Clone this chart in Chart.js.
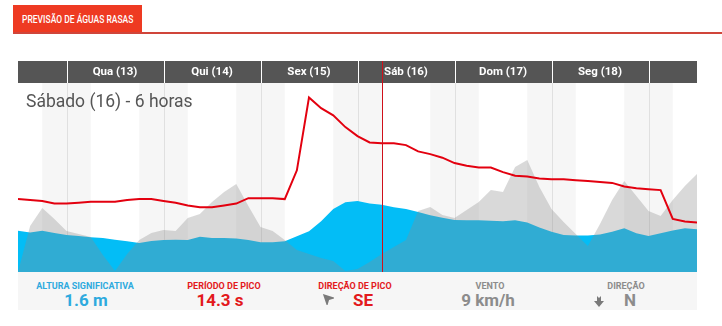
<!DOCTYPE html>
<html>
<head>
<meta charset="utf-8">
<script src="https://cdn.jsdelivr.net/npm/chart.js@4.4.1/dist/chart.umd.min.js"></script>
<style>
  body { margin: 0; width: 722px; height: 326px; background: #fff; font-family: Roboto, "Noto Sans", sans-serif; position: relative; overflow: hidden; }
  .tab { position: absolute; left: 13px; top: 5px; width: 129px; height: 28px; background: #ee3a22; }
  .tab span { position: absolute; left: 9px; top: 8px; color: #fff; font-size: 11.5px; font-weight: 500; line-height: 12px; white-space: nowrap; transform: scaleX(0.74); transform-origin: 0 0; }
  .rule { position: absolute; left: 13px; top: 32px; width: 709px; height: 2px; background: #d0453a; }
  #wrap { position: absolute; left: 18px; top: 61px; width: 679px; height: 211px; }
  .title { position: absolute; left: 26px; top: 92px; font-size: 17.5px; line-height: 18px; color: #555; white-space: nowrap; }
  .stats { position: absolute; left: 18px; top: 272px; width: 679px; height: 38px; background: #f6f6f6; }
  .c { position: absolute; width: 160px; text-align: center; white-space: nowrap; }
  .lbl { top: 281px; font-size: 9px; line-height: 10px; font-weight: bold; }
  .val { top: 292px; font-size: 17px; line-height: 17px; font-weight: bold; }
  .blue { color: #2eaade; }
  .red { color: #e3191c; }
  .gray { color: #8c8c8c; }
  .icon { position: absolute; }
</style>
</head>
<body>
<div class="tab"><span>PREVISÃO DE ÁGUAS RASAS</span></div>
<div class="rule"></div>

<div id="wrap"><canvas id="forecast" width="679" height="211"></canvas></div>
<div class="title" id="title"></div>

<div class="stats"></div>
<div class="c lbl blue" style="left:5px">ALTURA SIGNIFICATIVA</div>
<div class="c val blue" style="left:6px" id="vHeight"></div>
<div class="c lbl red" style="left:144px">PERÍODO DE PICO</div>
<div class="c val red" style="left:140px" id="vPeriod"></div>
<div class="c lbl red" style="left:275px">DIREÇÃO DE PICO</div>
<svg class="icon" style="left:321px;top:292px" width="13" height="13" viewBox="0 0 12 12">
  <polygon points="6,0 11.5,11 6,8 0.5,11" fill="#7a7a7a" transform="rotate(-45 6 6)"/>
</svg>
<div class="c val red" style="left:283px">SE</div>
<div class="c lbl gray" style="left:410px">VENTO</div>
<div class="c val gray" style="left:408px" id="vWind"></div>
<div class="c lbl gray" style="left:546px">DIREÇÃO</div>
<svg class="icon" style="left:594px;top:296px" width="10" height="11" viewBox="0 0 10 11">
  <polygon points="3,0 7,0 7,5 10,5 5,11 0,5 3,5" fill="#7a7a7a"/>
  <polygon points="3,0 5,2 7,0" fill="#f6f6f6"/>
</svg>
<div class="c val gray" style="left:550px">N</div>

<script>
// 3-hourly slots, first slot is Tuesday 12h
const firstHour = 12;
const slotCount = 57;
const slotLabels = Array.from({ length: slotCount }, (_, i) => ((firstHour + 3 * i) % 24) + 'h');

const dayLabels = ['Qua (13)', 'Qui (14)', 'Sex (15)', 'Sáb (16)', 'Dom (17)', 'Seg (18)'];
const nightStart = 18;   // shaded from 18h ...
const nightSlots = 4;    // ... for 12 hours

const selectedSlot = 30;
const selectedTitle = 'Sábado (16) - 6 horas';

// significant wave height (m)
const waveHeight = [
  0.98, 0.94, 0.98, 0.93, 0.88, 0.86, 0.83, 0.81, 0.77, 0.73,
  0.69, 0.74, 0.76, 0.77, 0.76, 0.84, 0.81, 0.81, 0.80, 0.76,
  0.71, 0.71, 0.73, 0.85, 0.97, 1.21, 1.50, 1.66, 1.69, 1.63,
  1.60, 1.54, 1.50, 1.43, 1.35, 1.29, 1.24, 1.23, 1.23, 1.22,
  1.21, 1.23, 1.18, 1.06, 0.96, 0.88, 0.87, 0.87, 0.89, 0.96,
  1.04, 0.92, 0.86, 0.92, 0.99, 1.04, 1.02
];

// peak period (s)
const peakPeriod = [
  8.1, 8.0, 7.9, 7.6, 7.6, 7.7, 7.8, 7.8, 7.8, 8.0,
  8.1, 8.1, 7.9, 7.7, 7.4, 7.2, 7.2, 7.4, 7.6, 8.2,
  8.2, 8.2, 8.1, 11.3, 19.4, 18.2, 17.4, 16.1, 15.1, 14.4,
  14.3, 14.3, 14.1, 13.4, 13.1, 12.7, 12.1, 11.8, 11.6, 11.6,
  11.1, 10.7, 10.6, 10.4, 10.3, 10.3, 10.2, 10.1, 10.0, 9.9,
  9.5, 9.3, 9.2, 9.1, 5.9, 5.6, 5.5
];

// wind speed (km/h)
const windSpeed = [
  0, 23, 32, 26.5, 20.5, 19, 17.5, 8.5, 0.5, 9,
  16, 19.5, 21, 20.5, 27, 29, 35, 40, 44, 33,
  22.5, 20.5, 16, 11, 9, 7, 5.5, 0.5, 1.5, 5,
  9, 12.5, 16, 30.5, 32.5, 28.5, 27, 31, 35, 41,
  40, 52.5, 56, 42.5, 31.5, 25, 19, 13, 24, 36,
  45.5, 38, 30.5, 28, 36, 43, 49
];

document.getElementById('title').textContent = selectedTitle;
document.getElementById('vHeight').textContent = waveHeight[selectedSlot].toFixed(1) + ' m';
document.getElementById('vPeriod').textContent = peakPeriod[selectedSlot].toFixed(1) + ' s';
document.getElementById('vWind').textContent = windSpeed[selectedSlot] + ' km/h';

const slotHour = i => (firstHour + 3 * i) % 24;

// night shading and midnight lines behind the areas
const backdrop = {
  id: 'backdrop',
  beforeDatasetsDraw(chart) {
    const { ctx, chartArea: a, scales: { x } } = chart;
    ctx.save();
    ctx.fillStyle = '#f6f6f6';
    for (let i = 0; i < slotCount; i++) {
      if (slotHour(i) !== nightStart) continue;
      const x0 = x.getPixelForValue(i);
      const x1 = x.getPixelForValue(Math.min(i + nightSlots, slotCount - 1));
      ctx.fillRect(x0, a.top, x1 - x0, a.bottom - a.top);
    }
    ctx.strokeStyle = '#e0e0e0';
    ctx.lineWidth = 1;
    for (let i = 0; i < slotCount; i++) {
      if (slotHour(i) !== 0) continue;
      const px = Math.round(x.getPixelForValue(i)) + 0.5;
      ctx.beginPath();
      ctx.moveTo(px, a.top);
      ctx.lineTo(px, a.bottom);
      ctx.stroke();
    }
    ctx.restore();
  }
};

// day header bar and the selected-time marker
const dayBar = {
  id: 'dayBar',
  afterDraw(chart) {
    const { ctx, chartArea: a, scales: { x } } = chart;
    ctx.save();
    ctx.fillStyle = '#555555';
    ctx.fillRect(a.left, 0, a.right - a.left, a.top);

    const midnights = [];
    for (let i = 0; i < slotCount; i++) if (slotHour(i) === 0) midnights.push(i);

    ctx.strokeStyle = '#ffffff';
    ctx.lineWidth = 1;
    midnights.forEach(i => {
      const px = Math.round(x.getPixelForValue(i)) + 0.5;
      ctx.beginPath();
      ctx.moveTo(px, 0);
      ctx.lineTo(px, a.top);
      ctx.stroke();
    });

    ctx.fillStyle = '#ffffff';
    ctx.font = 'bold 11.5px Roboto';
    ctx.textAlign = 'center';
    ctx.textBaseline = 'middle';
    dayLabels.forEach((label, d) => {
      const cx = (x.getPixelForValue(midnights[d]) + x.getPixelForValue(midnights[d] + 8)) / 2;
      ctx.fillText(label, cx, a.top / 2 + 0.5);
    });

    const sx = Math.round(x.getPixelForValue(selectedSlot)) + 0.5;
    ctx.strokeStyle = '#d0101a';
    ctx.beginPath();
    ctx.moveTo(sx, 0);
    ctx.lineTo(sx, a.bottom);
    ctx.stroke();
    ctx.restore();
  }
};

new Chart(document.getElementById('forecast'), {
  type: 'line',
  data: {
    labels: slotLabels,
    datasets: [
      {
        label: 'Período de pico',
        data: peakPeriod,
        yAxisID: 'yPeriod',
        borderColor: '#e3000f',
        borderWidth: 2,
        pointRadius: 0,
        tension: 0,
        fill: false,
        order: 0
      },
      {
        label: 'Vento',
        data: windSpeed,
        yAxisID: 'yWind',
        backgroundColor: 'rgba(141,141,141,0.33)',
        borderWidth: 0,
        pointRadius: 0,
        tension: 0,
        fill: 'origin',
        order: 1
      },
      {
        label: 'Altura significativa',
        data: waveHeight,
        yAxisID: 'yHeight',
        backgroundColor: '#03bdf6',
        borderWidth: 0,
        pointRadius: 0,
        tension: 0,
        fill: 'origin',
        order: 2
      }
    ]
  },
  options: {
    responsive: false,
    animation: false,
    layout: { padding: { top: 22, left: 0, right: 0, bottom: 0 } },
    plugins: { legend: { display: false }, tooltip: { enabled: false } },
    scales: {
      x: { display: false },
      yHeight: { display: false, min: 0, max: 4.5 },
      yPeriod: { display: false, min: 0, max: 21 },
      yWind: { display: false, min: 0, max: 94.5 }
    }
  },
  plugins: [backdrop, dayBar]
});
</script>
</body>
</html>
